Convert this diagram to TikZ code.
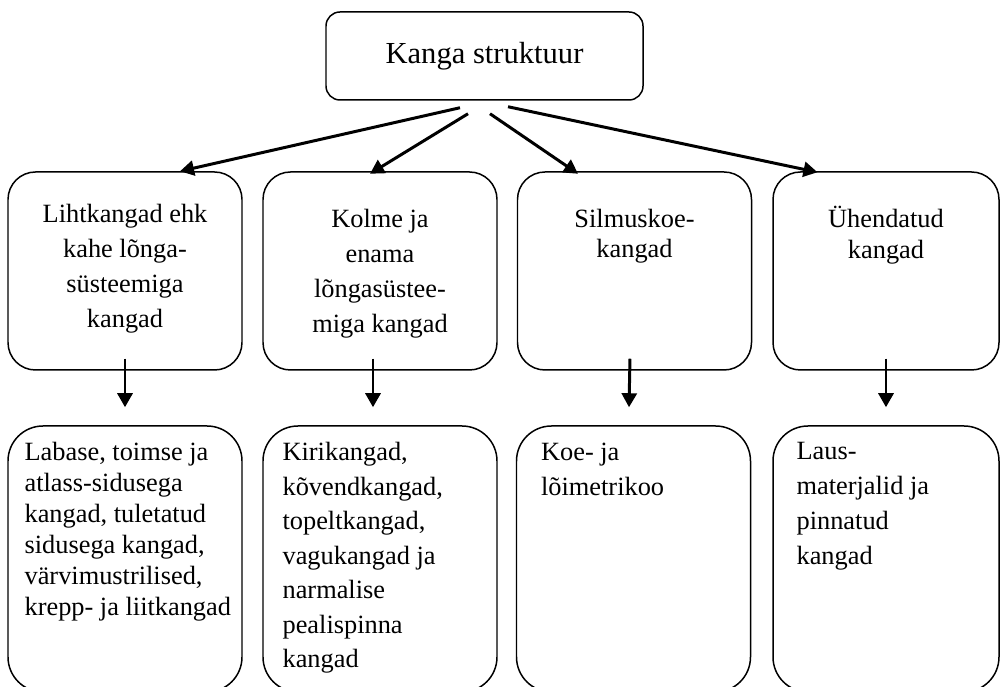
\documentclass[tikz,border=0pt]{standalone}
\usepackage{fontspec}
\setmainfont{Liberation Serif}
\usetikzlibrary{positioning}
\usetikzlibrary{arrows.meta}
\usetikzlibrary{calc}

\begin{document}
\begin{tikzpicture}[
  box/.style={draw, line width=0.85pt, rounded corners=0.55cm, minimum width=4.68cm, minimum height=3.96cm, inner sep=0pt},
  lowbox/.style={box, rounded corners=0.7cm, minimum height=5.32cm},
  arr/.style={-{Triangle[length=0.28cm,width=0.3cm]}, line width=1.7pt},
  txt/.style={inner sep=0pt, align=center, font=\fontsize{15}{19.9}\selectfont},
  txtl/.style={inner sep=0pt, align=left, font=\fontsize{15}{19.9}\selectfont}
]
  \useasboundingbox (0,0) rectangle (20.02,13.74);
  \clip (0,0) rectangle (20.02,13.74);

  % top
  \node[draw, line width=0.85pt, rounded corners=0.28cm, minimum width=6.34cm, minimum height=1.76cm,
        font=\fontsize{17.4}{20}\selectfont] (top) at (9.69,12.62) {Kanga struktuur};

  % second row
  \def\dy{8.32};
  \foreach \i/\x in {1/2.5, 2/7.6, 3/12.69} {
     \node[box] (l\i) at (\x,\dy) {};
  }
  \node[box, minimum width=4.52cm] (l4) at (17.72,\dy) {};

  \node[txt, below=0.66cm of l1.north] (t1) {Lihtkangad ehk\\kahe lõnga-\\süsteemiga\\kangad};
  \node[txt, below=0.76cm of l2.north] (t2) {Kolme ja\\enama\\lõngasüstee-\\miga kangad};
  \node[txt, font=\fontsize{15}{17}\selectfont, below=0.76cm of l3.north] (t3) {Silmuskoe-\\kangad};
  \node[txt, font=\fontsize{15}{17.5}\selectfont, below=0.7cm of l4.north] (t4) {Ühendatud\\kangad};

  % bottom row
  \def\dy{2.56};
  \foreach \i/\x in {1/2.5, 2/7.6, 3/12.67} {
     \node[lowbox] (b\i) at (\x,\dy) {};
  }
  \node[lowbox, minimum width=4.52cm] (b4) at (17.72,\dy) {};

  \node[txtl, font=\fontsize{15}{17.6}\selectfont, below right=0.34cm and 0.34cm of b1.north west] (u1)
     {Labase, toimse ja\\atlass-sidusega\\kangad, tuletatud\\sidusega kangad,\\värvimustrilised,\\krepp- ja liitkangad};
  \node[txtl, font=\fontsize{15}{19.6}\selectfont, below right=0.34cm and 0.4cm of b2.north west] (u2)
     {Kirikangad,\\kõvendkangad,\\topeltkangad,\\vagukangad ja\\narmalise\\pealispinna\\kangad};
  \node[txtl, below right=0.34cm and 0.5cm of b3.north west] (u3) {Koe- ja\\lõimetrikoo};
  \node[txtl, below right=0.34cm and 0.48cm of b4.north west] (u4) {Laus-\\materjalid ja\\pinnatud\\kangad};

  % arrows
  \foreach \i/\sx/\sy/\ex/\ey in {1/-0.49/-0.14/1.1/0, 2/-0.33/-0.26/-0.2/-0.05, 3/0.11/-0.26/-1.13/-0.05, 4/0.47/-0.12/-1.37/-0.02} {
     \draw[arr] ($(top.south)+(\sx,\sy)$) -- ($(l\i.north)+(\ex,\ey)$);
  }
  \foreach \i/\dx in {1/0, 2/-0.14, 3/-0.09, 4/0} {
     \draw[arr] ($(l\i.south)+(\dx,0.24)$) -- ($(b\i.north)+(\dx,0.36)$);
  }

\end{tikzpicture}
\end{document}
